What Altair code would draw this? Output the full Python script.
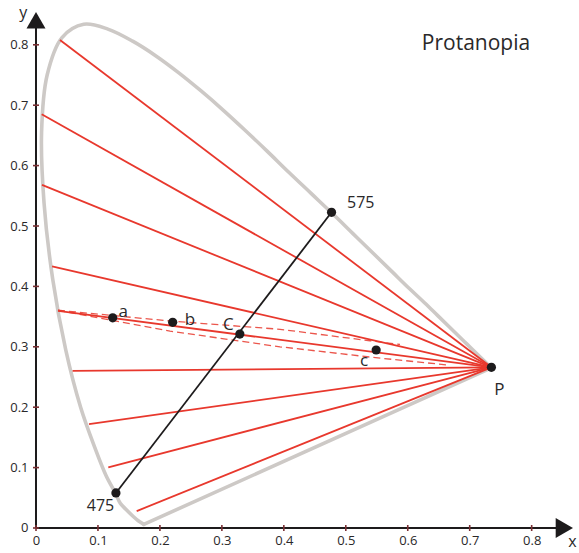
import altair as alt
import pandas as pd

# ---------------- data ----------------
x_ticks = [0, 0.1, 0.2, 0.3, 0.4, 0.5, 0.6, 0.7, 0.8]
y_ticks = [0, 0.1, 0.2, 0.3, 0.4, 0.5, 0.6, 0.7, 0.8]

# spectral locus (violet end -> red end)
locus_x = [0.174, 0.165, 0.157, 0.145, 0.136, 0.128, 0.113, 0.095, 0.072, 0.048,
           0.027, 0.013, 0.009, 0.018, 0.042, 0.077, 0.116, 0.156, 0.193, 0.230,
           0.266, 0.302, 0.337, 0.373, 0.408, 0.444, 0.478, 0.512, 0.545, 0.575,
           0.603, 0.627, 0.648, 0.666, 0.680, 0.692, 0.702, 0.735]
locus_y = [0.006, 0.012, 0.019, 0.031, 0.041, 0.058, 0.087, 0.133, 0.200, 0.295,
           0.412, 0.538, 0.655, 0.750, 0.812, 0.834, 0.826, 0.806, 0.782, 0.754,
           0.724, 0.692, 0.659, 0.624, 0.589, 0.554, 0.521, 0.487, 0.454, 0.424,
           0.396, 0.373, 0.352, 0.334, 0.320, 0.308, 0.298, 0.265]

# copunctal point P
p_x, p_y = 0.735, 0.266

# start points of the confusion lines (all end at P)
conf_x = [0.0387, 0.0092, 0.0097, 0.026, 0.0355, 0.059, 0.0855, 0.1167, 0.1625]
conf_y = [0.808, 0.685, 0.568, 0.433, 0.3593, 0.260, 0.172, 0.1005, 0.028]

# dashed band around the line through a, b, C
band_upper_x = [0.0355, 0.2163, 0.3938, 0.539, 0.5875]
band_upper_y = [0.3605, 0.3427, 0.329, 0.310, 0.3038]
band_lower_x = [0.0355, 0.2163, 0.3938, 0.539, 0.663]
band_lower_y = [0.3605, 0.326, 0.300, 0.283, 0.270]

# wavelength line 475 -> 575
wl_names = ["475", "575"]
wl_x = [0.129, 0.477]
wl_y = [0.058, 0.5227]

# labelled points
pt_names = ["a", "b", "C", "c", "P"]
pt_x = [0.1238, 0.2206, 0.329, 0.549, p_x]
pt_y = [0.348, 0.3405, 0.321, 0.2947, p_y]

# text labels (centre x, baseline y)
lbl_text = ["a", "b", "C", "c", "P"]
lbl_x = [0.1409, 0.2485, 0.3104, 0.5294, 0.748]
lbl_y = [0.3498, 0.3361, 0.3278, 0.2682, 0.2202]

wl_lbl_x = [0.1041, 0.5242]
wl_lbl_y = [0.0286, 0.5293]

title_text = "Protanopia"
title_x, title_y = 0.7101, 0.7914

axis_names = ["x", "y"]
axis_name_x = [0.866, -0.0205]
axis_name_y = [-0.0320, 0.8444]

# axis extents (arrow bases / arrow centres)
x_axis_end, y_axis_end = 0.8425, 0.8295
x_arrow, y_arrow = 0.8527, 0.8406

# ---------------- styling ----------------
FONT = "Open Sans"
RED = "#e8382d"
GRAY = "#cdc9c6"
BLACK = "#1d1b1c"
TICK = "#7a2f33"
TXT = "#2a2829"

XMAX, YMAX = 0.86, 0.86
W = XMAX * 619.6
H = YMAX * 604.0

xs = alt.Scale(domain=[0, XMAX], nice=False, zero=False)
ys = alt.Scale(domain=[0, YMAX], nice=False, zero=False)

x_axis = alt.Axis(values=x_ticks, format=".1~f", domain=False, ticks=False, tickSize=0,
                  grid=False, labelFlush=False, labelPadding=7, labelFontSize=13,
                  labelFont=FONT, labelColor=TXT, title=None)
y_axis = alt.Axis(values=y_ticks, format=".1~f", domain=False, ticks=False, tickSize=0,
                  grid=False, labelFlush=False, labelPadding=8, labelFontSize=13,
                  labelFont=FONT, labelColor=TXT, title=None)


def X(f):
    return alt.X(f, type="quantitative", scale=xs, axis=x_axis)


def Y(f):
    return alt.Y(f, type="quantitative", scale=ys, axis=y_axis)


# ---------------- layers ----------------
locus_df = pd.DataFrame({"x": locus_x, "y": locus_y, "i": list(range(len(locus_x)))})
locus = alt.Chart(locus_df).mark_line(
    color=GRAY, strokeWidth=3.6, interpolate="catmull-rom", strokeCap="round", strokeJoin="round"
).encode(x=X("x"), y=Y("y"), order="i:Q")

purple_df = pd.DataFrame({"x": [locus_x[-1]], "y": [locus_y[-1]],
                          "x2": [locus_x[0]], "y2": [locus_y[0]]})
purple = alt.Chart(purple_df).mark_rule(color=GRAY, strokeWidth=3.6, strokeCap="round").encode(
    x=X("x"), y=Y("y"), x2="x2", y2="y2")

conf_df = pd.DataFrame({"x": conf_x, "y": conf_y,
                        "x2": [p_x] * len(conf_x), "y2": [p_y] * len(conf_y)})
conf = alt.Chart(conf_df).mark_rule(color=RED, strokeWidth=1.8).encode(
    x=X("x"), y=Y("y"), x2="x2", y2="y2")

band_df = pd.concat([
    pd.DataFrame({"x": band_upper_x, "y": band_upper_y, "g": "upper",
                  "i": list(range(len(band_upper_x)))}),
    pd.DataFrame({"x": band_lower_x, "y": band_lower_y, "g": "lower",
                  "i": list(range(len(band_lower_x)))}),
])
band = alt.Chart(band_df).mark_line(color=RED, strokeWidth=1.3, strokeDash=[7, 4], opacity=0.85).encode(
    x=X("x"), y=Y("y"), detail="g:N", order="i:Q")

wl_df = pd.DataFrame({"x": [wl_x[0]], "y": [wl_y[0]], "x2": [wl_x[1]], "y2": [wl_y[1]]})
wl_line = alt.Chart(wl_df).mark_rule(color=BLACK, strokeWidth=1.8).encode(
    x=X("x"), y=Y("y"), x2="x2", y2="y2")

dots_df = pd.DataFrame({"x": pt_x + wl_x, "y": pt_y + wl_y, "n": pt_names + wl_names})
dots = alt.Chart(dots_df).mark_point(filled=True, size=85, color=BLACK, opacity=1).encode(
    x=X("x"), y=Y("y"))

lbl_df = pd.DataFrame({"x": lbl_x, "y": lbl_y, "t": lbl_text})
labels = alt.Chart(lbl_df).mark_text(
    font=FONT, fontSize=17, color=TXT, align="center", baseline="alphabetic"
).encode(x=X("x"), y=Y("y"), text="t:N")

wl_lbl_df = pd.DataFrame({"x": wl_lbl_x, "y": wl_lbl_y, "t": wl_names})
wl_labels = alt.Chart(wl_lbl_df).mark_text(
    font=FONT, fontSize=16, color=TXT, align="center", baseline="alphabetic"
).encode(x=X("x"), y=Y("y"), text="t:N")

title_df = pd.DataFrame({"x": [title_x], "y": [title_y], "t": [title_text]})
title = alt.Chart(title_df).mark_text(
    font=FONT, fontSize=21, color=TXT, align="center", baseline="alphabetic"
).encode(x=X("x"), y=Y("y"), text="t:N")

an_df = pd.DataFrame({"x": axis_name_x, "y": axis_name_y, "t": axis_names})
axis_names_layer = alt.Chart(an_df).mark_text(
    font=FONT, fontSize=16, color=TXT, align="center", baseline="alphabetic"
).encode(x=X("x"), y=Y("y"), text="t:N")

# axis lines with arrows
ax_df = pd.DataFrame({"x": [0, 0], "y": [0, 0], "x2": [x_axis_end, 0], "y2": [0, y_axis_end]})
ax_lines = alt.Chart(ax_df).mark_rule(color=BLACK, strokeWidth=2).encode(
    x=X("x"), y=Y("y"), x2="x2", y2="y2")

arrow_x = alt.Chart(pd.DataFrame({"x": [x_arrow], "y": [0]})).mark_point(
    shape="triangle-right", filled=True, size=400, color=BLACK, opacity=1
).encode(x=X("x"), y=Y("y"))
arrow_y = alt.Chart(pd.DataFrame({"x": [0], "y": [y_arrow]})).mark_point(
    shape="triangle-up", filled=True, size=361, color=BLACK, opacity=1
).encode(x=X("x"), y=Y("y"))

# tick marks crossing the axes
xt = alt.Chart(pd.DataFrame({"v": x_ticks})).mark_rule(color=TICK, strokeWidth=1.6).encode(
    x=X("v"), y=alt.value(H - 3), y2=alt.value(H + 3))
yt = alt.Chart(pd.DataFrame({"v": y_ticks})).mark_rule(color=TICK, strokeWidth=1.6).encode(
    y=Y("v"), x=alt.value(-3), x2=alt.value(3))

chart = alt.layer(
    locus, purple, conf, band, wl_line, ax_lines, xt, yt, arrow_x, arrow_y,
    dots, labels, wl_labels, title, axis_names_layer
).properties(
    width=W, height=H,
    padding={"left": 36, "top": 528 - H, "right": 10, "bottom": 25},
    autosize=alt.AutoSizeParams(type="none"),
    background="white",
).configure_view(stroke=None)

chart.save("out.html", embed_options={"renderer": "svg", "actions": False})
